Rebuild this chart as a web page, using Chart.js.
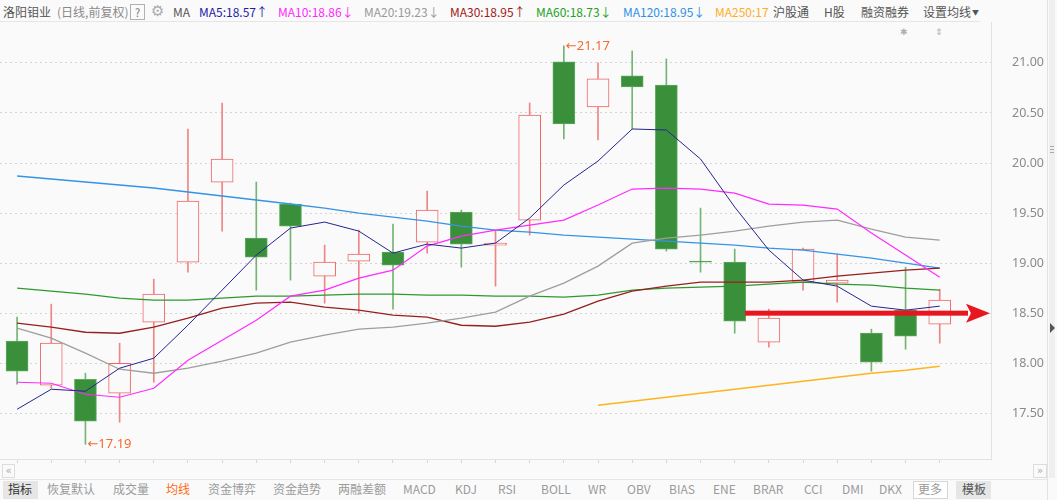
<!DOCTYPE html>
<html><head><meta charset="utf-8">
<script src="https://cdn.jsdelivr.net/npm/chart.js@4.4.0/dist/chart.umd.min.js"></script>
<style>
html,body{margin:0;padding:0;background:#fafafa;}
body{width:1057px;height:500px;position:relative;overflow:hidden;font-family:"Noto Sans CJK SC","Noto Sans",sans-serif;font-size:12px;}
.t{position:absolute;white-space:nowrap;line-height:14px;top:5px;}
.b{position:absolute;white-space:nowrap;line-height:14px;top:482px;color:#9a9a9a;}
#wrap{position:absolute;left:0;top:22px;width:1047px;height:441px;}
</style></head><body>
<div style="position:absolute;left:0;top:21px;width:980px;height:1px;background:#e6e6e6"></div>
<div class="t" style="left:3px;color:#555">洛阳钼业</div>
<div class="t" style="left:57px;color:#8a8a8a">(日线,前复权)</div>
<div style="position:absolute;left:130px;top:4px;width:13px;height:14px;border:1px solid #b0b0b0;color:#777;font-size:11px;line-height:14px;text-align:center">?</div>
<div class="t" style="left:151px;top:3px;color:#aaa;font-size:15px;line-height:17px;font-family:'DejaVu Sans'">⚙</div>
<div class="t" style="left:173px;color:#555">MA</div>
<div class="t" style="left:199px;color:#1c1ca6">MA5:18.57↑</div>
<div class="t" style="left:278px;color:#ff28ff">MA10:18.86↓</div>
<div class="t" style="left:364px;color:#999">MA20:19.23↓</div>
<div class="t" style="left:450px;color:#a01818">MA30:18.95↑</div>
<div class="t" style="left:536px;color:#22a022">MA60:18.73↓</div>
<div class="t" style="left:623px;color:#2e90e6">MA120:18.95↓</div>
<div class="t" style="left:715px;color:#ffae1e">MA250:17</div>
<div class="t" style="left:773px;color:#555">沪股通</div>
<div class="t" style="left:824px;color:#555">H股</div>
<div class="t" style="left:861px;color:#555">融资融券</div>
<div class="t" style="left:923px;color:#555">设置均线<span style="font-size:7px;vertical-align:2px;margin-left:1px">▼</span></div>
<div class="t" style="left:900px;top:25px;color:#b0b0b0;font-size:9px;font-family:'DejaVu Sans'">✱</div>
<div class="t" style="left:935px;top:25px;color:#b0b0b0;font-size:9px;font-family:'DejaVu Sans'">⇕</div>

<div id="wrap"><canvas id="c" width="1047" height="441"></canvas></div>

<div style="position:absolute;left:1047px;top:0;width:1px;height:500px;background:#e2e2e2"></div>
<div style="position:absolute;left:1049px;top:0;width:6px;height:478px;background:#efefef"></div>
<div style="position:absolute;left:1050px;top:146px;width:4px;height:1px;background:#aaa;box-shadow:0 3px 0 #aaa,0 6px 0 #aaa"></div>
<div style="position:absolute;left:1050px;top:323px;width:0;height:0;border-top:5px solid transparent;border-bottom:5px solid transparent;border-left:5px solid #555"></div>

<div style="position:absolute;left:2px;top:464px;width:11px;height:12px;border:1px solid #ddd;color:#aaa;font-size:10px;line-height:12px;text-align:center;font-family:'DejaVu Sans'">«</div>
<div style="position:absolute;left:1033px;top:464px;width:12px;height:12px;border:1px solid #ddd;color:#aaa;font-size:10px;line-height:12px;text-align:center;font-family:'DejaVu Sans'">»</div>
<div style="position:absolute;left:0;top:479px;width:1047px;height:1px;background:#e6e6e6"></div>

<div style="position:absolute;left:3px;top:481px;width:35px;height:18px;background:#e6e6e6"></div>
<div class="b" style="left:8px;color:#333">指标</div>
<div class="b" style="left:47px">恢复默认</div>
<div class="b" style="left:113px">成交量</div>
<div class="b" style="left:166px;color:#ff6a10">均线</div>
<div class="b" style="left:208px">资金博弈</div>
<div class="b" style="left:273px">资金趋势</div>
<div class="b" style="left:338px">两融差额</div>
<div class="b" style="left:403px">MACD</div>
<div class="b" style="left:455px">KDJ</div>
<div class="b" style="left:498px">RSI</div>
<div class="b" style="left:541px">BOLL</div>
<div class="b" style="left:588px">WR</div>
<div class="b" style="left:627px">OBV</div>
<div class="b" style="left:669px">BIAS</div>
<div class="b" style="left:713px">ENE</div>
<div class="b" style="left:753px">BRAR</div>
<div class="b" style="left:804px">CCI</div>
<div class="b" style="left:842px">DMI</div>
<div class="b" style="left:879px">DKX</div>
<div style="position:absolute;left:913px;top:481px;width:33px;height:16px;border:1px solid #d6d6d6;background:#fff"></div>
<div class="b" style="left:918px">更多</div>
<div style="position:absolute;left:956px;top:481px;width:35px;height:18px;background:#e6e6e6"></div>
<div class="b" style="left:962px;color:#555">模板</div>

<script>
// ---- data ----
const sessions = ['1','2','3','4','5','6','7','8','9','10','11','12','13','14','15','16','17','18','19','20','21','22','23','24','25','26','27','28'];
const openP  = [18.22,17.78,17.84,17.70,18.41,19.01,19.81,19.25,19.59,18.87,19.02,19.11,19.21,19.51,19.18,19.43,21.01,20.56,20.87,20.78,19.02,19.01,18.21,18.81,18.80,18.30,18.53,18.39];
const closeP = [17.92,18.20,17.42,18.00,18.69,19.62,20.04,19.06,19.37,19.01,19.09,18.98,19.53,19.19,19.20,20.48,20.39,20.84,20.76,19.14,19.01,18.42,18.45,19.14,18.83,18.01,18.27,18.63];
const highP  = [18.46,18.59,17.90,18.20,18.84,20.34,20.60,19.81,19.60,19.18,19.33,19.39,19.72,19.53,19.33,20.60,21.17,21.00,21.12,21.04,19.55,19.14,18.54,19.15,19.09,18.34,18.96,18.74];
const lowP   = [17.79,17.75,17.19,17.41,17.81,18.91,19.32,18.73,18.83,18.60,18.50,18.54,19.10,18.96,18.77,19.28,20.24,20.23,20.34,19.12,18.91,18.30,18.16,18.73,18.61,17.92,18.14,18.20];
const ma5   = [17.54,17.74,17.72,17.95,18.05,18.38,18.73,19.08,19.35,19.41,19.32,19.10,19.19,19.15,19.20,19.45,19.78,20.02,20.34,20.33,20.04,19.56,19.13,18.83,18.77,18.57,18.53,18.57];
const ma10  = [17.81,17.80,17.69,17.66,17.75,18.03,18.23,18.43,18.67,18.73,18.85,18.93,19.17,19.27,19.33,19.38,19.43,19.58,19.74,19.75,19.74,19.70,19.59,19.58,19.54,19.30,19.08,18.86];
const ma20  = [18.35,18.25,18.10,17.94,17.90,17.95,18.02,18.10,18.21,18.28,18.34,18.36,18.40,18.45,18.51,18.67,18.80,18.97,19.20,19.25,19.28,19.32,19.37,19.41,19.43,19.34,19.26,19.23];
const ma30  = [18.40,18.36,18.31,18.30,18.36,18.45,18.55,18.60,18.61,18.56,18.53,18.48,18.46,18.38,18.37,18.41,18.49,18.62,18.72,18.77,18.81,18.81,18.81,18.83,18.87,18.90,18.93,18.95];
const ma60  = [18.75,18.72,18.69,18.65,18.63,18.63,18.65,18.67,18.67,18.68,18.69,18.69,18.68,18.68,18.67,18.67,18.66,18.68,18.73,18.75,18.76,18.77,18.79,18.81,18.79,18.78,18.75,18.73];
const ma120 = [19.87,19.84,19.81,19.78,19.75,19.71,19.67,19.63,19.59,19.55,19.50,19.46,19.42,19.37,19.33,19.31,19.28,19.26,19.24,19.22,19.20,19.18,19.15,19.13,19.09,19.05,19.00,18.95];
const ma250 = [null,null,null,null,null,null,null,null,null,null,null,null,null,null,null,null,null,17.58,17.62,17.66,17.70,17.74,17.78,17.82,17.86,17.90,17.93,17.97];
const priceTicks = [17.50,18.00,18.50,19.00,19.50,20.00,20.50,21.00];
const arrowFrom = 21.3;   // session position where the marker arrow starts
const arrowLevel = 18.50; // price level of marker arrow

// ---- styling ----
const UP_FILL = '#fafafa', UP_LINE = '#ee6666', UP_WICK = '#f08585';
const DN_FILL = '#3a8f3a', DN_LINE = '#5daa5d', DN_WICK = '#74b474';
const isUp = sessions.map((_, i) => closeP[i] >= openP[i]);

const pts = arr => arr.map((v, i) => ({x: i, y: v}));
const lineDs = (label, arr, color, w) => ({
  type: 'line', label, data: pts(arr), borderColor: color, borderWidth: w,
  pointRadius: 0, tension: 0, fill: false, spanGaps: false, order: 0
});

const arrowPlugin = {
  id: 'marks',
  afterDatasetsDraw(chart) {
    const {ctx, chartArea, scales: {x, y}} = chart;
    ctx.save();
    const ay = y.getPixelForValue(arrowLevel);
    const x0 = x.getPixelForValue(arrowFrom), x1 = chartArea.right - 1;
    ctx.fillStyle = '#e8161e';
    ctx.fillRect(x0, ay - 2.5, x1 - 22 - x0, 5);
    ctx.beginPath();
    ctx.moveTo(x1, ay); ctx.lineTo(x1 - 24, ay - 9.5); ctx.lineTo(x1 - 19, ay); ctx.lineTo(x1 - 24, ay + 9.5);
    ctx.closePath(); ctx.fill();
    ctx.font = '13px "Noto Sans", "DejaVu Sans", sans-serif';
    ctx.fillStyle = '#f26b2c';
    ctx.textBaseline = 'middle';
    const hi = Math.max(...highP), lo = Math.min(...lowP);
    const hiI = highP.indexOf(hi), loI = lowP.indexOf(lo);
    ctx.fillText('←' + hi.toFixed(2), x.getPixelForValue(hiI) + 2, y.getPixelForValue(hi));
    ctx.fillText('←' + lo.toFixed(2), x.getPixelForValue(loI) + 2, y.getPixelForValue(lo));
    ctx.restore();
  }
};

new Chart(document.getElementById('c'), {
  type: 'bar',
  data: {
    datasets: [
      lineDs('MA5', ma5, '#24248f', 1),
      lineDs('MA10', ma10, '#ff2bff', 1.2),
      lineDs('MA20', ma20, '#9e9e9e', 1.3),
      lineDs('MA30', ma30, '#962020', 1.4),
      lineDs('MA60', ma60, '#2e9a2e', 1.4),
      lineDs('MA120', ma120, '#3494e6', 1.4),
      lineDs('MA250', ma250, '#ffb41e', 1.4),
      {
        label: 'body', order: 1, grouped: false, barThickness: 22, minBarLength: 1,
        data: sessions.map((_, i) => ({x: i, y: [openP[i], closeP[i]]})),
        backgroundColor: isUp.map(u => u ? UP_FILL : DN_FILL),
        borderColor: isUp.map(u => u ? UP_LINE : DN_LINE),
        borderWidth: 1, borderSkipped: false
      },
      {
        label: 'wick', order: 2, grouped: false, barThickness: 1,
        data: sessions.map((_, i) => ({x: i, y: [lowP[i], highP[i]]})),
        backgroundColor: isUp.map(u => u ? UP_WICK : DN_WICK),
        borderWidth: 0
      }
    ]
  },
  options: {
    responsive: false, animation: false,
    layout: {padding: 0, autoPadding: false},
    plugins: {legend: {display: false}, tooltip: {enabled: false}},
    scales: {
      x: {
        type: 'linear', min: -0.5, max: 28.5, position: 'bottom', offset: false,
        ticks: {display: false, padding: 0},
        grid: {offset: false, drawOnChartArea: false, drawTicks: true, tickLength: 4, color: '#d8d8d8'},
        border: {display: true, color: '#e2e2e2'},
        afterBuildTicks: s => { s.ticks = sessions.map((_, i) => ({value: i})); },
        afterFit: s => { s.height = 4; s.paddingLeft = 0; s.paddingRight = 0; }
      },
      y: {
        type: 'linear', position: 'right', min: 17.043, max: 21.409, offset: false, beginAtZero: false,
        grid: {offset: false, color: '#d4d4d4', drawTicks: true, tickLength: 21, tickColor: 'rgba(0,0,0,0)'},
        border: {display: true, color: '#e2e2e2', dash: [2, 3]},
        ticks: {color: '#8a8a8a', padding: 0, font: {size: 12.5, family: '"Noto Sans", sans-serif'},
                callback: v => Number(v).toFixed(2)},
        afterBuildTicks: s => { s.ticks = priceTicks.map(v => ({value: v})); },
        afterFit: s => { s.width = 56; s.paddingTop = 0; s.paddingBottom = 0; }
      }
    }
  },
  plugins: [arrowPlugin]
});
</script>
</body></html>
